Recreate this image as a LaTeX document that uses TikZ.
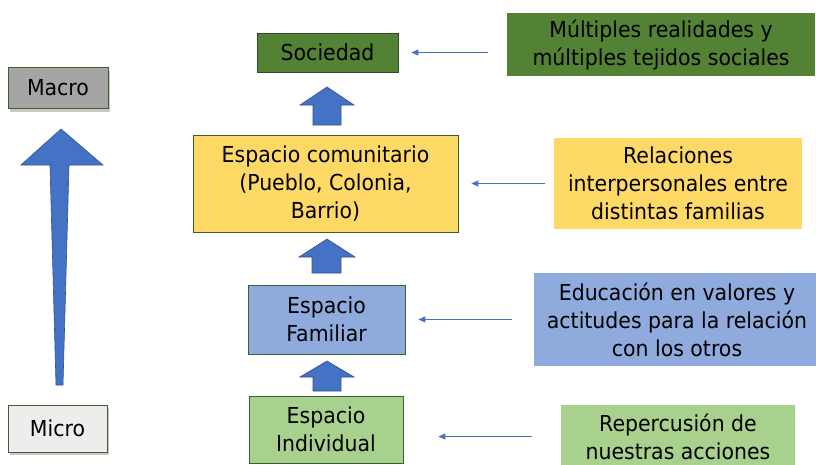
\documentclass[tikz,border=0pt]{standalone}
\usepackage{fontspec}
\setmainfont{DejaVu Sans}[FakeStretch=0.93]
\usetikzlibrary{arrows.meta,calc,shadows}
\definecolor{cgray}{HTML}{A5A5A5}
\definecolor{clight}{HTML}{EDEDED}
\definecolor{cdkgreen}{HTML}{548235}
\definecolor{cborder}{HTML}{3A5F2E}
\definecolor{cyellow}{HTML}{FFD966}
\definecolor{cblue}{HTML}{8FAADC}
\definecolor{cgreen}{HTML}{A9D18E}
\definecolor{carrow}{HTML}{4472C4}
\definecolor{carrowb}{HTML}{2F528F}
\definecolor{cthin}{HTML}{5B8BD0}
\begin{document}
\begin{tikzpicture}[x=1pt,y=-1pt,
  txt/.style={font=\fontsize{22}{28}\selectfont, align=center, inner sep=0pt, text=black},
  framed/.style={txt, draw=cborder, line width=0.8pt},
  plain/.style={txt, draw=none},
  shad/.style={drop shadow={shadow xshift=2pt, shadow yshift=-3pt, fill=black!35, opacity=0.6}},
  blk/.style={fill=carrow, draw=carrowb, line width=0.6pt, line join=miter},
  thinarr/.style={draw=cthin, line width=0.9pt, -{Triangle[length=7pt,width=6pt]}, color=carrow}
]
\useasboundingbox (0,0) rectangle (816,464);
\fill[white] (0,0) rectangle (816,464);

% left scale
\node[framed, shad, fill=cgray, minimum width=100pt, minimum height=41pt] (macro) at (58,88) {Macro};
\node[framed, shad, fill=clight, minimum width=99pt, minimum height=47pt] (micro) at (57.5,428.5) {Micro};
\draw[blk] (61,129) -- (103,165) -- (69,165) -- (63,385) -- (56,385) -- (50,165) -- (21,165) -- cycle;

% central column
\node[framed, fill=cdkgreen, draw=cborder!80!black, minimum width=141pt, minimum height=39pt] (soc) at (327.5,52.5) {Sociedad};
\node[framed, fill=cyellow, minimum width=265pt, minimum height=97pt] (com) at (325.5,183.5) {Espacio comunitario\\(Pueblo, Colonia,\\Barrio)};
\node[framed, fill=cblue, minimum width=157pt, minimum height=69pt] (fam) at (326.5,319.5) {Espacio\\Familiar};
\node[framed, fill=cgreen, minimum width=154pt, minimum height=67pt] (ind) at (326,429.5) {Espacio\\Individual};

% block arrows
\draw[blk] (327,87) -- (354,105) -- (341,105) -- (341,125) -- (313,125) -- (313,105) -- (300,105) -- cycle;
\draw[blk] (327,239) -- (355,257) -- (341,257) -- (341,273) -- (312,273) -- (312,257) -- (299,257) -- cycle;
\draw[blk] (327,361) -- (354,377) -- (341,377) -- (341,391) -- (313,391) -- (313,377) -- (300,377) -- cycle;

% right column
\node[plain, fill=cdkgreen, minimum width=308pt, minimum height=63pt] (mult) at (661,44.5) {Múltiples realidades y\\múltiples tejidos sociales};
\node[plain, fill=cyellow, minimum width=248pt, minimum height=91pt] (rel) at (678,183.5) {Relaciones\\interpersonales entre\\distintas familias};
\node[plain, fill=cblue, minimum width=286pt, minimum height=93pt] (edu) at (677,319.5) {Educación en valores y\\actitudes para la relación\\con los otros};
\node[plain, fill=cgreen, minimum width=234pt, minimum height=64pt] (rep) at (678,437) {Repercusión de\\nuestras acciones};

% thin arrows
\draw[thinarr] ($(soc.east)+(90,0)$) -- ($(soc.east)+(13,0)$);
\draw[thinarr] ($(com.east)+(87,0)$) -- ($(com.east)+(13,0)$);
\draw[thinarr] ($(fam.east)+(107,0)$) -- ($(fam.east)+(13,0)$);
\draw[thinarr] ($(ind.east)+(129,7)$) -- ($(ind.east)+(35,7)$);
\end{tikzpicture}
\end{document}
